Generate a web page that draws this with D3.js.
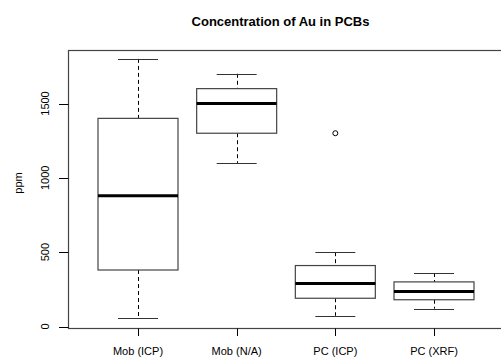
<!DOCTYPE html>
<html>
<head>
<meta charset="utf-8">
<script src="https://cdn.jsdelivr.net/npm/d3@7"></script>
<style>
  body { margin: 0; background: #fff; }
  text { font-family: "Liberation Sans", Arial, sans-serif; fill: #000; }
</style>
</head>
<body>
<div id="drawing"></div>
<script>
var width = 501;
var height = 359;

// boxplot stats
var categories = ["Mob (ICP)", "Mob (N/A)", "PC (ICP)", "PC (XRF)"];
var lowWhisker = [60, 1100, 72, 120];
var q1 = [380, 1300, 190, 180];
var median = [880, 1500, 290, 235];
var q3 = [1400, 1600, 410, 300];
var highWhisker = [1800, 1700, 500, 360];
var outliers = [[], [], [1300], []];
var yTicks = [0, 500, 1000, 1500];

var plot = {left: 68.5, right: 503, top: 50.5, bottom: 328.5};

var svg = d3.select("#drawing").append("svg")
  .attr("width", width)
  .attr("height", height);

var xScale = d3.scaleLinear()
  .domain([1, 4])
  .range([138, 434]);

var yScale = d3.scaleLinear()
  .domain([0, 1500])
  .range([326.5, 103.5]);

var boxHalf = 40;
var capHalf = 20;

// plot frame
svg.append("rect")
  .attr("x", plot.left)
  .attr("y", plot.top)
  .attr("width", plot.right - plot.left)
  .attr("height", plot.bottom - plot.top)
  .attr("fill", "none")
  .attr("stroke", "#444")
  .attr("stroke-width", 1.2);

var boxes = svg.append("g").selectAll("g")
  .data(categories)
  .enter().append("g");

// dashed whiskers
boxes.append("line")
  .attr("x1", (d, i) => Math.round(xScale(i + 1)) + 0.5)
  .attr("x2", (d, i) => Math.round(xScale(i + 1)) + 0.5)
  .attr("y1", (d, i) => yScale(highWhisker[i]))
  .attr("y2", (d, i) => yScale(q3[i]))
  .attr("stroke", "#000")
  .attr("stroke-dasharray", "4,3");
boxes.append("line")
  .attr("x1", (d, i) => Math.round(xScale(i + 1)) + 0.5)
  .attr("x2", (d, i) => Math.round(xScale(i + 1)) + 0.5)
  .attr("y1", (d, i) => yScale(q1[i]))
  .attr("y2", (d, i) => yScale(lowWhisker[i]))
  .attr("stroke", "#000")
  .attr("stroke-dasharray", "4,3");

// caps
[highWhisker, lowWhisker].forEach(function(arr) {
  boxes.append("line")
    .attr("x1", (d, i) => xScale(i + 1) - capHalf)
    .attr("x2", (d, i) => xScale(i + 1) + capHalf)
    .attr("y1", (d, i) => Math.round(yScale(arr[i])) + 0.5)
    .attr("y2", (d, i) => Math.round(yScale(arr[i])) + 0.5)
    .attr("stroke", "#333")
    .attr("stroke-width", 1.2);
});

// box
boxes.append("rect")
  .attr("x", (d, i) => xScale(i + 1) - boxHalf)
  .attr("y", (d, i) => yScale(q3[i]))
  .attr("width", boxHalf * 2)
  .attr("height", (d, i) => yScale(q1[i]) - yScale(q3[i]))
  .attr("fill", "#fff")
  .attr("stroke", "#444")
  .attr("stroke-width", 1.2);

// median
boxes.append("line")
  .attr("x1", (d, i) => xScale(i + 1) - boxHalf)
  .attr("x2", (d, i) => xScale(i + 1) + boxHalf)
  .attr("y1", (d, i) => yScale(median[i]))
  .attr("y2", (d, i) => yScale(median[i]))
  .attr("stroke", "#000")
  .attr("stroke-width", 3);

// outliers
boxes.selectAll("circle")
  .data((d, i) => outliers[i].map(v => ({v: v, i: i})))
  .enter().append("circle")
  .attr("cx", d => xScale(d.i + 1))
  .attr("cy", d => yScale(d.v))
  .attr("r", 2.5)
  .attr("fill", "none")
  .attr("stroke", "#000");

// y axis ticks (frame acts as the axis line)
var yTick = svg.append("g").selectAll(".ytick")
  .data(yTicks)
  .enter().append("g")
  .attr("class", "ytick");
yTick.append("line")
  .attr("x1", 59).attr("x2", plot.left)
  .attr("y1", d => Math.round(yScale(d)) + 0.5)
  .attr("y2", d => Math.round(yScale(d)) + 0.5)
  .attr("stroke", "#000");
yTick.append("text")
  .attr("transform", d => "translate(49," + yScale(d) + ")rotate(-90)")
  .attr("text-anchor", "middle")
  .attr("font-size", 11)
  .text(d => d);

// x axis ticks and labels
var xTick = svg.append("g").selectAll(".xtick")
  .data(categories)
  .enter().append("g")
  .attr("class", "xtick");
xTick.append("line")
  .attr("x1", (d, i) => Math.round(xScale(i + 1)) + 0.5)
  .attr("x2", (d, i) => Math.round(xScale(i + 1)) + 0.5)
  .attr("y1", plot.bottom)
  .attr("y2", 336)
  .attr("stroke", "#000");
xTick.append("text")
  .attr("x", (d, i) => xScale(i + 1))
  .attr("y", 355)
  .attr("text-anchor", "middle")
  .attr("font-size", 11)
  .text(d => d);

// titles
svg.append("text")
  .attr("x", 280.5)
  .attr("y", 26)
  .attr("text-anchor", "middle")
  .attr("font-size", 13)
  .attr("font-weight", "bold")
  .text("Concentration of Au in PCBs");

svg.append("text")
  .attr("transform", "translate(22,183)rotate(-90)")
  .attr("text-anchor", "middle")
  .attr("font-size", 11)
  .text("ppm");
</script>
</body>
</html>
